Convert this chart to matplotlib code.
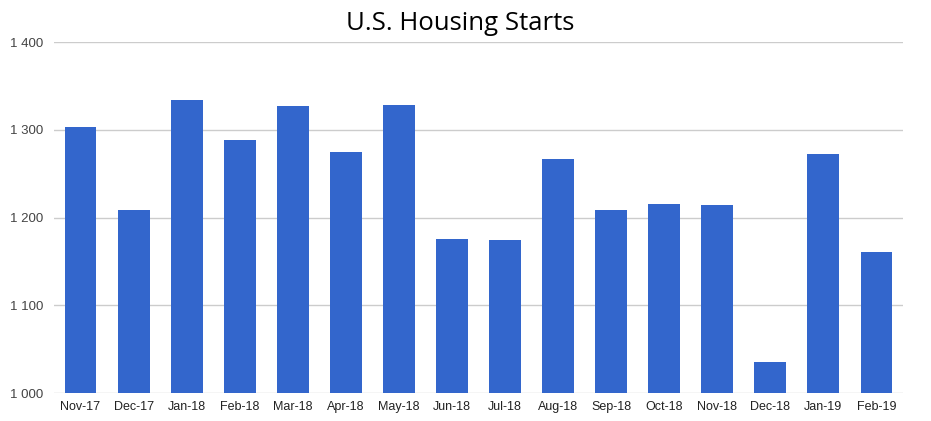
import matplotlib.pyplot as plt
import numpy as np

months = ["Nov-17", "Dec-17", "Jan-18", "Feb-18", "Mar-18", "Apr-18", "May-18", "Jun-18",
          "Jul-18", "Aug-18", "Sep-18", "Oct-18", "Nov-18", "Dec-18", "Jan-19", "Feb-19"]
starts = [1303, 1209, 1334, 1289, 1327, 1275, 1329, 1176,
          1174, 1267, 1209, 1216, 1214, 1035, 1273, 1161]
y_ticks = [1000, 1100, 1200, 1300, 1400]
y_labels = ["1 000", "1 100", "1 200", "1 300", "1 400"]

fig = plt.figure(figsize=(9.31, 4.21), dpi=100)
ax = fig.add_axes([54 / 931, 28 / 421, 849 / 931, 350.7 / 421])

x = np.arange(len(months))
ax.bar(x, [v - 1000 for v in starts], bottom=1000, width=0.6, color="#3366cc", zorder=3)

ax.set_xlim(-0.5, len(months) - 0.5)
ax.set_ylim(1000, 1400)
ax.set_yticks(y_ticks)
ax.set_yticklabels(y_labels, fontsize=9.5, color="#444444", family="Liberation Sans")
ax.set_xticks(x)
ax.set_xticklabels(months, fontsize=9, color="#222222", family="Liberation Sans")
ax.tick_params(axis="both", length=0)
ax.tick_params(axis="y", pad=8)
ax.tick_params(axis="x", pad=6)
ax.grid(axis="y", color="#cccccc", linewidth=1, zorder=0)
for s in ax.spines.values():
    s.set_visible(False)

fig.suptitle("U.S. Housing Starts", x=0.494, y=0.975, fontsize=18.5, family="Open Sans", color="#000000", va="top")

fig.savefig("out.png", dpi=100)
